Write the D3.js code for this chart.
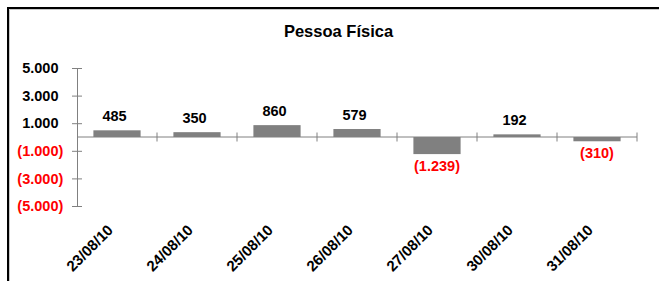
<!DOCTYPE html>
<html>
<head>
<meta charset="utf-8">
<script src="https://cdn.jsdelivr.net/npm/d3@7"></script>
<style>
  body { margin: 0; background: #fff; }
  svg text { font-family: "Liberation Sans", Arial, sans-serif; font-weight: bold; }
</style>
</head>
<body>
<div id="chart"></div>
<script>
// data
var categories = ["23/08/10", "24/08/10", "25/08/10", "26/08/10", "27/08/10", "30/08/10", "31/08/10"];
var values = [485, 350, 860, 579, -1239, 192, -310];
var yTicks = [5000, 3000, 1000, -1000, -3000, -5000];
var title = "Pessoa Física";

var width = 659, height = 281;
var margin = { top: 68, left: 77, right: 22, bottom: 75 };

var svg = d3.select("#chart")
    .append("svg")
    .attr("width", width)
    .attr("height", height);

// frame (top + left border with light inner shadow)
svg.append("path")
    .attr("d", "M8,281 V8 H659")
    .attr("fill", "none")
    .attr("stroke", "#000")
    .attr("stroke-width", 2);
svg.append("path")
    .attr("d", "M9.5,281 V9.5 H659")
    .attr("fill", "none")
    .attr("stroke", "#c8c8c8")
    .attr("stroke-width", 1);

svg.append("text")
    .attr("x", 338.5)
    .attr("y", 36.5)
    .attr("text-anchor", "middle")
    .style("font-size", "16.5px")
    .text(title);

var x = d3.scaleBand()
    .domain(categories)
    .range([margin.left, width - margin.right])
    .paddingInner(0.41)
    .paddingOuter(0.205);

var y = d3.scaleLinear()
    .domain([-5000, 5000])
    .range([height - margin.bottom, margin.top]);

var fmt = function (v) {
    var s = d3.format(",.0f")(Math.abs(v)).replace(/,/g, ".");
    return v < 0 ? "(" + s + ")" : s;
};
var parenHalf = 0.333 * 14.5 / 2;

// bars
svg.selectAll("rect.bar")
    .data(values)
    .enter()
    .append("rect")
    .attr("class", "bar")
    .attr("x", (d, i) => x(categories[i]))
    .attr("width", x.bandwidth())
    .attr("y", d => y(Math.max(0, d)))
    .attr("height", d => Math.abs(y(d) - y(0)))
    .attr("fill", "#808080");

// y axis
var yAxis = svg.append("g")
    .attr("transform", `translate(${margin.left},0)`)
    .call(d3.axisLeft(y).tickValues(yTicks).tickSize(5).tickFormat(fmt).tickSizeOuter(0));
yAxis.select(".domain").attr("stroke", "#808080");
yAxis.selectAll(".tick line").attr("stroke", "#808080").attr("x1", 5).attr("x2", -5);
yAxis.selectAll(".tick text")
    .attr("x", d => d < 0 ? -13.7 : -13.7 - 2 * parenHalf)
    .attr("fill", d => d < 0 ? "#ff0000" : "#000")
    .style("font-size", "14.5px");

// x axis at zero with ticks at category boundaries
var x0 = y(0);
svg.append("line")
    .attr("x1", margin.left).attr("x2", width - margin.right)
    .attr("y1", x0).attr("y2", x0)
    .attr("stroke", "#808080");
var bounds = categories.map(c => x(c) - x.step() * x.paddingInner() / 2)
    .concat([width - margin.right]);
svg.selectAll("line.xtick")
    .data(bounds.slice(1))
    .enter()
    .append("line")
    .attr("class", "xtick")
    .attr("x1", d => d).attr("x2", d => d)
    .attr("y1", x0 - 4.5).attr("y2", x0 + 4.5)
    .attr("stroke", "#808080");

// category labels
svg.selectAll("text.cat")
    .data(categories)
    .enter()
    .append("text")
    .attr("class", "cat")
    .attr("text-anchor", "end")
    .attr("transform", d => `translate(${x(d) + x.bandwidth() / 2 - 3},${y(-5000) + 25}) rotate(-45)`)
    .style("font-size", "15px")
    .text(d => d);

// value labels
svg.selectAll("text.val")
    .data(values)
    .enter()
    .append("text")
    .attr("class", "val")
    .attr("text-anchor", "middle")
    .attr("x", (d, i) => x(categories[i]) + x.bandwidth() / 2 - (d < 0 ? 0 : parenHalf))
    .attr("y", d => d < 0 ? y(d) + 17 : y(d) - 9.5)
    .attr("fill", d => d < 0 ? "#ff0000" : "#000")
    .style("font-size", "14.5px")
    .text(fmt);
</script>
</body>
</html>
